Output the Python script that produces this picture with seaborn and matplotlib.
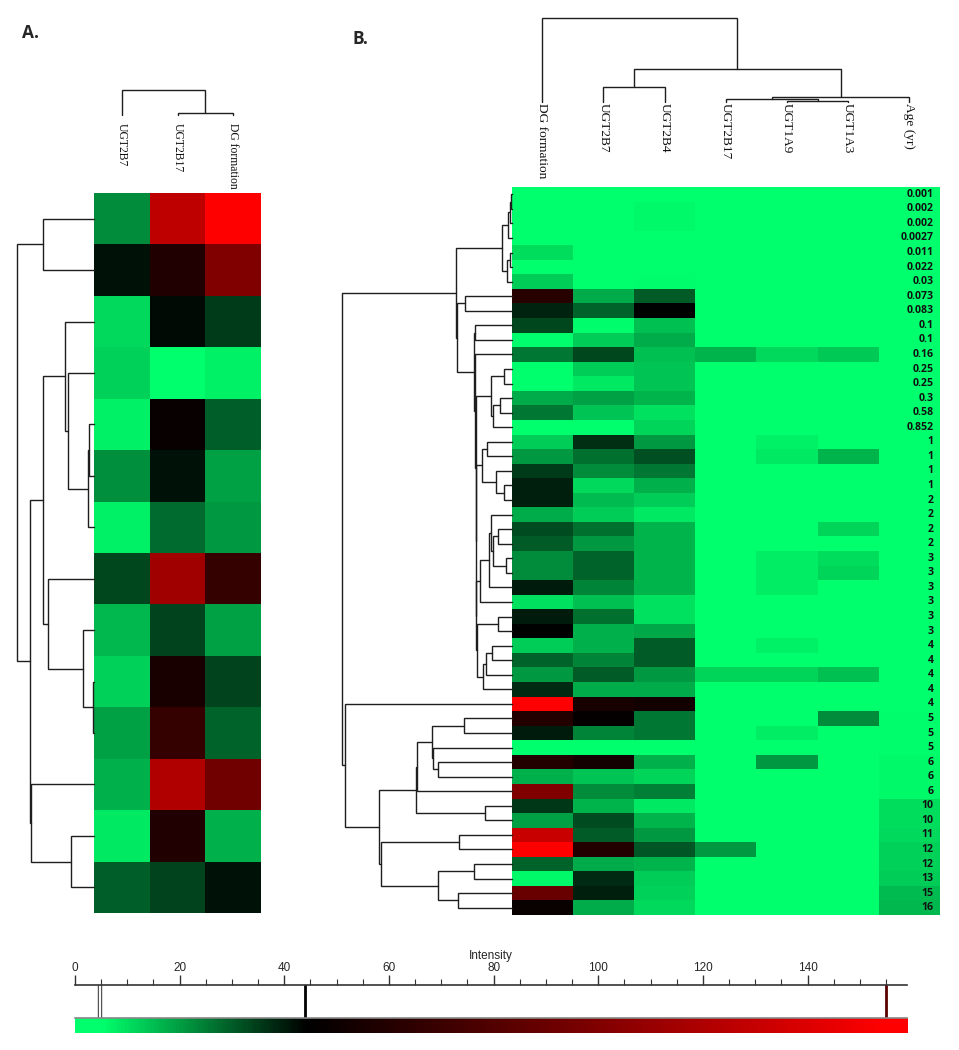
import matplotlib
matplotlib.use("Agg")
import matplotlib.pyplot as plt
import numpy as np
import pandas as pd
import seaborn as sns
from matplotlib import transforms
from matplotlib.colors import LinearSegmentedColormap

# ── Style ─────────────────────────────────────────────────────────────────────
sns.set_theme(style="white")
plt.rcParams["font.family"] = ["DejaVu Sans"]
LINE = "#1e1e1e"

# ── Colour scale (intensity) ──────────────────────────────────────────────────
VMAX = 159
cmap_stops = [0, 4.7, 44, 155, VMAX]
cmap_colors = ["#00ff6c", "#00ff6c", "#000000", "#ff0000", "#ff0000"]
scale_markers = [4.7, 44, 155]

# ── Panel A data ──────────────────────────────────────────────────────────────
a_cols = ["UGT2B7", "UGT2B17", "DG formation"]
a_ugt2b7 = [22.4, 41.5, 10.7, 12.0, 7.0, 21.8, 7.0, 33.4, 15.7, 12.0, 19.4, 16.9, 8.3, 29.2]
a_ugt2b17 = [126.7, 58.0, 42.5, 4.0, 47.5, 41.5, 27.7, 113.6, 34.1, 54.4, 67.0, 120.6, 58.0, 34.1]
a_dg = [158.0, 99.7, 34.8, 7.0, 29.2, 19.4, 20.6, 67.0, 19.4, 34.1, 28.6, 92.7, 16.9, 41.5]

# dendrograms: [height, left, right], leaves are row/column indices
a_col_tree = [25, 0, [2, 1, 2]]
a_row_tree = [77, [51, 0, 1],
              [64.3,
               [51, [29.3, 2, [26.6, 3, [6, [5, 4, 5], 6]]],
                    [46, 7, [11.6, 8, [1.6, 9, 10]]]],
               [63.6, 11, [23.3, 12, 13]]]]

# ── Panel B data ──────────────────────────────────────────────────────────────
b_cols = ["DG formation", "UGT2B7", "UGT2B4", "UGT2B17", "UGT1A9", "UGT1A3", "Age (yr)"]
ages = ["0.001", "0.002", "0.002", "0.0027", "0.011", "0.022", "0.03", "0.073", "0.083",
        "0.1", "0.1", "0.16", "0.25", "0.25", "0.3", "0.58", "0.852",
        "1", "1", "1", "1", "2", "2", "2", "2", "3", "3", "3", "3", "3", "3",
        "4", "4", "4", "4", "4", "5", "5", "5", "6", "6", "6",
        "10", "10", "11", "12", "12", "13", "15", "16"]
b_dg = [2, 2, 2, 2, 10, 2, 13, 61, 38.6, 33.2, 4, 25.5, 2, 4, 17.8, 25.5, 4,
        13, 21, 34.8, 39.4, 39.4, 17.8, 32.5, 30, 22.4, 22.4, 40, 9.4, 40, 44, 13, 28.6, 21,
        37.8, 158, 59, 40, 2, 59, 17, 99.7, 35.5, 19.4, 131, 155, 28.6, 6, 89.7, 48]
b_2b7 = [2, 2, 2, 2, 2, 2, 2, 17.8, 28.6, 5, 13, 33.2, 13, 8.6, 19.4, 14, 4,
         37, 27, 22.4, 10.9, 15.5, 13, 27, 21, 28.6, 28.6, 24, 14.7, 27, 17, 17, 24, 30,
         17.8, 55, 46, 24, 2, 52.7, 14, 22.4, 16.3, 32.5, 30, 59, 17.8, 37.8, 39.4, 17.8]
b_2b4 = [2, 6, 6, 2, 2, 2, 5, 30, 44, 14.7, 17.8, 14.7, 14, 14, 16.3, 9.4, 11.7,
         21, 31.7, 25.5, 17, 13, 8.6, 16.3, 16.3, 16.3, 16.3, 16.3, 9.4, 9.4, 18.6, 30, 30, 21,
         17.8, 52.7, 25.5, 25.5, 2, 17, 11.7, 24.8, 8.6, 16.3, 21, 31, 16.3, 13, 12.4, 10.9]
b_2b17 = [2] * 11 + [16.3] + [2] * 21 + [11.7] + [2] * 11 + [21] + [2] * 4
b_1a9 = ([2] * 11 + [10.9] + [2] * 5 + [7, 8.6] + [2] * 6 + [7.8, 7.8, 7.8] + [2] * 3
         + [7, 2, 11.7] + [2] * 3 + [7.8, 2, 21] + [2] * 10)
b_1a3 = ([2] * 11 + [13.2] + [2] * 6 + [16.3] + [2] * 4 + [11.7, 2, 10, 11.7] + [2] * 6
         + [14.7] + [2] * 2 + [22.4] + [2] * 13)

b_col_tree = [84, 0, [32.7, [14.7, 1, 2], [5.3, [2.7, 3, [1.5, 4, 5]], 6]]]
b_rows_1_7 = [9.4, [3.4, [2.0, [1.2, 0, 1], 2], 3], [5.0, [1.7, 4, 5], 6]]
b_rows_13_17 = [20.7, [7.4, 12, 13], [18.4, [11.7, 14, 15], 16]]
b_rows_18_22 = [29.7, [24.7, 17, 18], [15.7, 19, [7.4, 20, 21]]]
b_rows_23_29 = [31.7, [22.4, [20.7, 22, [18.7, [13.7, 23, 24], [5.7, 25, 26]]], 27], 28]
b_rows_30_35 = [35.2, [13.4, 29, 30], [28.4, [25.7, [20.0, 31, 32], 33], 34]]
b_rows_10_35 = [37.4, [37.0, 9, 10],
                [36.4, 11, [36.1, b_rows_13_17, [35.9, b_rows_18_22, [35.7, b_rows_23_29, b_rows_30_35]]]]]
b_rows_37_44 = [95.7, [94.7, [80.0, [47.4, 36, 37], [78.4, 38, [73.4, 39, 40]]], 41], [26.7, 42, 43]]
b_rows_45_50 = [130.7, [52.4, 44, 45], [73.4, [37.4, 46, 47], [53.4, 48, 49]]]
b_row_tree = [169.4,
              [56.0, b_rows_1_7, [54.7, [46.7, 7, 8], b_rows_10_35]],
              [166.7, 35, [132.4, b_rows_37_44, b_rows_45_50]]]

# ── Frames ────────────────────────────────────────────────────────────────────
df_a = pd.DataFrame({"UGT2B7": a_ugt2b7, "UGT2B17": a_ugt2b17, "DG formation": a_dg})
df_b = pd.DataFrame({"DG formation": b_dg, "UGT2B7": b_2b7, "UGT2B4": b_2b4,
                     "UGT2B17": b_2b17, "UGT1A9": b_1a9, "UGT1A3": b_1a3,
                     "Age (yr)": [float(a) for a in ages]})

cmap = LinearSegmentedColormap.from_list(
    "green_black_red", [(s / VMAX, c) for s, c in zip(cmap_stops, cmap_colors)])

W, H = 959, 1050
fig = plt.figure(figsize=(W / 100, H / 100), dpi=100)


def px_axes(x0, y0, x1, y1):
    """Axes placed in pixel coordinates (origin top-left)."""
    return fig.add_axes([x0 / W, 1 - y1 / H, (x1 - x0) / W, (y1 - y0) / H])


def draw_dendro(ax, tree, orient):
    def walk(node):
        if isinstance(node, int):
            return node + 0.5, 0.0
        h, left, right = node
        p1, h1 = walk(left)
        p2, h2 = walk(right)
        if orient == "left":
            ax.plot([h1, h, h, h2], [p1, p1, p2, p2], color=LINE, lw=1.0,
                    solid_joinstyle="miter", clip_on=False)
        else:
            ax.plot([p1, p1, p2, p2], [h1, h, h, h2], color=LINE, lw=1.0,
                    solid_joinstyle="miter", clip_on=False)
        return (p1 + p2) / 2, h
    walk(tree)
    ax.axis("off")


def column_labels(ax, labels, y_px, size):
    trans = transforms.blended_transform_factory(ax.transData, fig.transFigure)
    for j, lab in enumerate(labels):
        ax.text(j + 0.5, 1 - y_px / H, lab, transform=trans, rotation=270,
                ha="center", va="top", fontsize=size, family="Liberation Serif",
                color="#111111")


# ── Panel A ───────────────────────────────────────────────────────────────────
ax_ha = px_axes(94.3, 193, 261, 913)
sns.heatmap(df_a, ax=ax_ha, cmap=cmap, vmin=0, vmax=VMAX, cbar=False,
            xticklabels=False, yticklabels=False)
column_labels(ax_ha, a_cols, 123, 8.4)

ax_ra = px_axes(10, 193, 94.3, 913)
draw_dendro(ax_ra, a_row_tree, "left")
ax_ra.set_xlim(84.3, 0)
ax_ra.set_ylim(len(df_a), 0)

ax_ca = px_axes(94.3, 85, 261, 115)
draw_dendro(ax_ca, a_col_tree, "top")
ax_ca.set_xlim(0, len(a_cols))
ax_ca.set_ylim(0, 30)

fig.text(22 / W, 1 - 33 / H, "A.", fontsize=12.5, fontweight="bold", va="center",
         family="Open Sans")

# ── Panel B ───────────────────────────────────────────────────────────────────
ax_hb = px_axes(511.7, 187, 940, 915)
sns.heatmap(df_b, ax=ax_hb, cmap=cmap, vmin=0, vmax=VMAX, cbar=False,
            xticklabels=False, yticklabels=False)
for i, lab in enumerate(ages):
    ax_hb.text(len(b_cols) - 0.11, i + 0.5, lab, ha="right", va="center",
               fontsize=7.6, fontweight="bold", family="Open Sans", color="#111111")
column_labels(ax_hb, b_cols, 103, 9.6)

ax_rb = px_axes(335, 187, 511.7, 915)
draw_dendro(ax_rb, b_row_tree, "left")
ax_rb.set_xlim(176.7, 0)
ax_rb.set_ylim(len(df_b), 0)

ax_cb = px_axes(511.7, 12, 940, 102)
draw_dendro(ax_cb, b_col_tree, "top")
ax_cb.set_xlim(0, len(b_cols))
ax_cb.set_ylim(0, 90)

fig.text(352 / W, 1 - 39 / H, "B.", fontsize=12.5, fontweight="bold", va="center",
         family="Open Sans")

# ── Intensity scale ───────────────────────────────────────────────────────────
ax_sc = px_axes(75, 985, 907, 1018)
ax_sc.set_xlim(0, VMAX)
ax_sc.set_ylim(0, 1)
for side in ["left", "right", "bottom"]:
    ax_sc.spines[side].set_visible(False)
ax_sc.spines["top"].set_color("#333333")
ax_sc.spines["top"].set_linewidth(1.2)
ax_sc.xaxis.tick_top()
ax_sc.xaxis.set_label_position("top")
ax_sc.set_xticks(np.arange(0, 141, 20))
ax_sc.set_xticks(np.arange(0, VMAX, 5), minor=True)
ax_sc.tick_params(axis="x", which="major", direction="out", length=7, width=1,
                  color="#333333", labelsize=8.5, pad=1, top=True, bottom=False)
ax_sc.tick_params(axis="x", which="minor", direction="out", length=4, width=0.8,
                  color="#333333", top=True, bottom=False)
ax_sc.set_yticks([])
ax_sc.set_xlabel("Intensity", fontsize=8.5, labelpad=2)
for lab in ax_sc.get_xticklabels():
    lab.set_family("Liberation Sans")
ax_sc.xaxis.label.set_family("Liberation Sans")
ax_sc.axvline(scale_markers[0], color="#555555", lw=3.2)
ax_sc.axvline(scale_markers[0], color="white", lw=1.4)
ax_sc.axvline(scale_markers[1], color="#000000", lw=2)
ax_sc.axvline(scale_markers[2], color="#5a0000", lw=2)

ax_bar = px_axes(75, 1018, 907, 1033)
ax_bar.imshow(np.linspace(0, VMAX, 600)[None, :], aspect="auto", cmap=cmap,
              vmin=0, vmax=VMAX, extent=[0, VMAX, 0, 1])
ax_bar.set_xticks([])
ax_bar.set_yticks([])
for side in ["left", "right", "bottom"]:
    ax_bar.spines[side].set_visible(False)
ax_bar.spines["top"].set_color("#888888")
ax_bar.spines["top"].set_linewidth(1.2)

fig.savefig("out.png", dpi=100, facecolor="white")
plt.close()
